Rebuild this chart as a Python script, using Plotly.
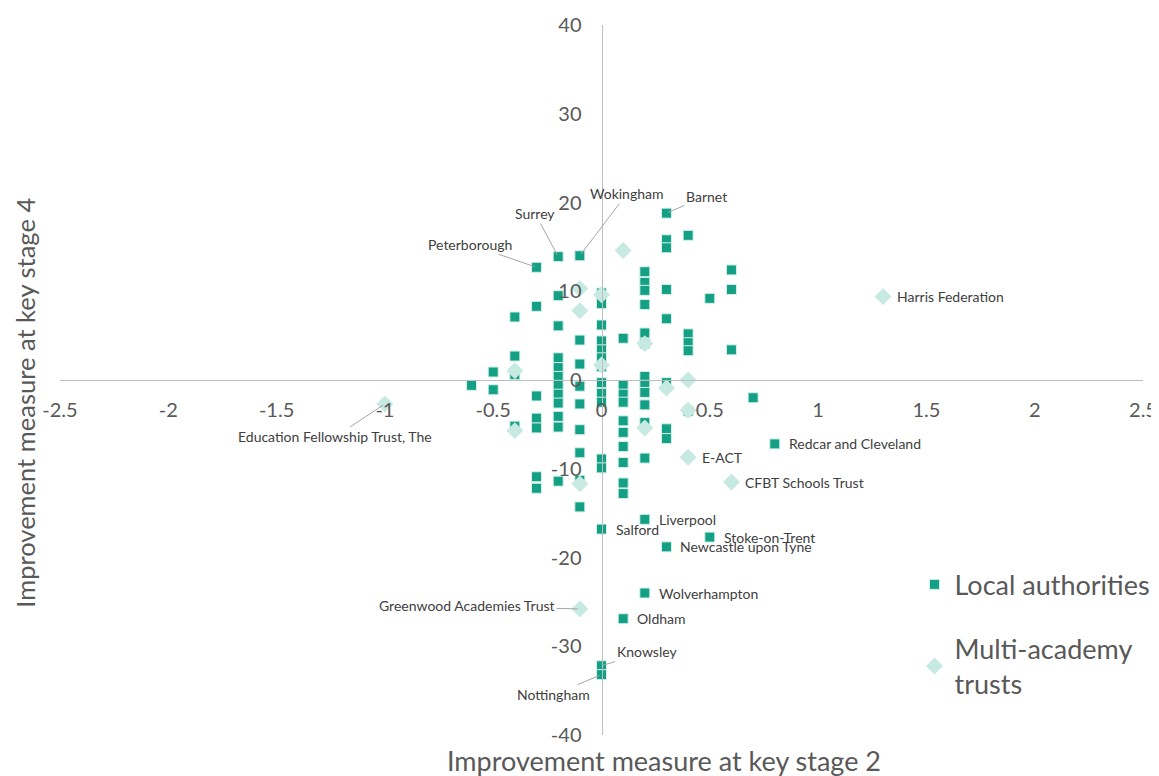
import plotly.graph_objects as go

# Local authorities (squares)
la_x = [-0.6,
        -0.5, -0.5,
        -0.4, -0.4, -0.4, -0.4,
        -0.3, -0.3, -0.3, -0.3, -0.3, -0.3, -0.3,
        -0.2, -0.2, -0.2, -0.2, -0.2, -0.2, -0.2, -0.2, -0.2, -0.2, -0.2, -0.2,
        -0.1, -0.1, -0.1, -0.1, -0.1, -0.1, -0.1, -0.1, -0.1,
        0, 0, 0, 0, 0, 0, 0, 0, 0, 0, 0, 0, 0, 0, 0,
        0.1, 0.1, 0.1, 0.1, 0.1, 0.1, 0.1, 0.1, 0.1, 0.1, 0.1,
        0.2, 0.2, 0.2, 0.2, 0.2, 0.2, 0.2, 0.2, 0.2, 0.2, 0.2, 0.2, 0.2, 0.2,
        0.3, 0.3, 0.3, 0.3, 0.3, 0.3, 0.3, 0.3, 0.3,
        0.4, 0.4, 0.4, 0.4, 0.4,
        0.5, 0.5,
        0.6, 0.6, 0.6,
        0.7,
        0.8]
la_y = [-0.6,
        0.9, -1.1,
        7.1, 2.7, 0.6, -5.2,
        12.7, 8.3, -1.8, -4.3, -5.4, -10.9, -12.2,
        13.9, 9.5, 6.1, 2.5, 1.4, 0.4, -0.6, -1.6, -2.6, -4.1, -5.3, -11.4,
        14.0, 4.5, 1.8, -0.7, -2.7, -5.6, -8.2, -11.3, -14.3,
        9.8, 8.6, 6.2, 4.4, 3.4, 2.5, 1.5, -0.3, -1.5, -2.5, -8.9, -9.9, -16.8, -32.2, -33.2,
        4.7, -0.6, -1.6, -2.5, -4.6, -5.9, -7.5, -9.3, -11.6, -12.8, -26.9,
        12.2, 11.0, 10.1, 8.5, 5.3, 4.1, 0.4, -0.6, -1.4, -2.8, -4.8, -8.8, -15.7, -24.0,
        18.8, 15.8, 14.9, 10.2, 6.9, -0.3, -5.5, -6.6, -18.8,
        16.3, 5.2, 4.2, 3.3, -3.5,
        9.2, -17.7,
        12.4, 10.2, 3.4,
        -2.0,
        -7.2]

# Multi-academy trusts (diamonds)
mat_x = [-1.0, -0.4, -0.4, -0.1, -0.1, -0.1, -0.1, 0, 0, 0.1, 0.2, 0.2, 0.3, 0.4, 0.4, 0.4, 0.6, 1.3]
mat_y = [-2.7, 1.05, -5.7, 10.3, 7.8, -11.7, -25.8, 9.6, 1.7, 14.6, 4.1, -5.4, -0.9, 0.0, -3.4, -8.7, -11.5, 9.4]

# Labelled points with leader lines: name, x, y
leader_names = ["Wokingham", "Barnet", "Surrey", "Peterborough",
                "Education Fellowship Trust, The", "Greenwood Academies Trust",
                "Knowsley", "Nottingham"]
leader_x = [-0.1, 0.3, -0.2, -0.3, -1.0, -0.1, 0, 0]
leader_y = [14.0, 18.8, 13.9, 12.7, -2.7, -25.8, -32.2, -33.2]

# Labelled points without leader lines
plain_names = ["Harris Federation", "Redcar and Cleveland", "E-ACT", "CFBT Schools Trust",
               "Liverpool", "Salford", "Stoke-on-Trent", "Newcastle upon Tyne",
               "Wolverhampton", "Oldham"]
plain_x = [1.3, 0.8, 0.4, 0.6, 0.2, 0, 0.5, 0.3, 0.2, 0.1]
plain_y = [9.4, -7.2, -8.7, -11.5, -15.7, -16.8, -17.7, -18.8, -24.0, -26.9]

x_ticks = [-2.5, -2, -1.5, -1, -0.5, 0, 0.5, 1, 1.5, 2, 2.5]
x_tick_text = ["-2.5", "-2", "-1.5", "-1", "-0.5", "0", "0.5", "1", "1.5", "2", "2.5"]
y_ticks = [-40, -30, -20, -10, 0, 10, 20, 30, 40]
y_tick_text = ["-40", "-30", "-20", "-10", "0", "10", "20", "30", "40"]

SQ = "#14A085"
DIA = "#C6E9E1"
FONT = "Lato, 'Open Sans', sans-serif"

fig = go.Figure()
fig.add_trace(go.Scatter(
    x=la_x, y=la_y, mode="markers", name="Local authorities",
    marker=dict(symbol="square", size=10, color=SQ, line=dict(color="#D6F0EA", width=1)),
    legendgroup="a"))
fig.add_trace(go.Scatter(
    x=mat_x, y=mat_y, mode="markers", name="Multi-academy<br>trusts",
    marker=dict(symbol="diamond", size=13, color=DIA, line=dict(width=0)),
    legendgroup="b"))

# leader label offsets (pixels) - layout only
leader_off = [(47, -62), (40, -17), (-23, -43), (-67, -23), (-50, 33), (-113, -3), (45, -14), (-48, 20)]
for n, x, y, (ax, ay) in zip(leader_names, leader_x, leader_y, leader_off):
    fig.add_annotation(x=x, y=y, text=n, showarrow=True, arrowhead=0, arrowwidth=1,
                       arrowcolor="#A6A6A6", ax=ax, ay=ay, standoff=2,
                       font=dict(size=14, color="#404040", family=FONT))
for n, x, y in zip(plain_names, plain_x, plain_y):
    fig.add_annotation(x=x, y=y, text=n, showarrow=False, xanchor="left", xshift=12,
                       font=dict(size=14, color="#404040", family=FONT))

# axis titles
fig.add_annotation(xref="paper", yref="paper", x=0.558, xanchor="center", y=0, yshift=-25,
                   yanchor="middle", text="Improvement measure at key stage 2", showarrow=False,
                   font=dict(size=27, color="#595959", family=FONT))
fig.add_annotation(xref="paper", yref="paper", x=0, xanchor="center", xshift=-35, y=0.468,
                   yanchor="middle", textangle=-90,
                   text="Improvement measure at key stage 4", showarrow=False,
                   font=dict(size=25.5, color="#595959", family=FONT))

# page body has an 8px margin, so the figure is drawn 8px smaller to sit where the reference does
fig.update_layout(
    width=1151, height=768,
    margin=dict(l=52, r=16, t=17, b=41, autoexpand=False),
    paper_bgcolor="white", plot_bgcolor="white",
    font=dict(family=FONT, color="#595959"),
    showlegend=True,
    legend=dict(x=0.789, y=0.246, xanchor="left", yanchor="top",
                font=dict(size=27, color="#595959", family=FONT),
                tracegroupgap=26, bgcolor="rgba(0,0,0,0)"),
    xaxis=dict(range=[-2.5, 2.5], tickvals=x_ticks, ticktext=x_tick_text, anchor="free", position=0.5,
               automargin=False,
               showline=True, linecolor="#BFBFBF", linewidth=1, showgrid=False, zeroline=False,
               ticks="", ticklabelstandoff=12, tickfont=dict(size=20, color="#595959", family=FONT)),
    yaxis=dict(range=[-40, 40], tickvals=y_ticks, ticktext=y_tick_text, anchor="free", position=0.5,
               automargin=False,
               showline=True, linecolor="#BFBFBF", linewidth=1, showgrid=False, zeroline=False,
               ticks="", ticklabelstandoff=16, tickfont=dict(size=20, color="#595959", family=FONT)),
)

fig.write_html("out.html")
